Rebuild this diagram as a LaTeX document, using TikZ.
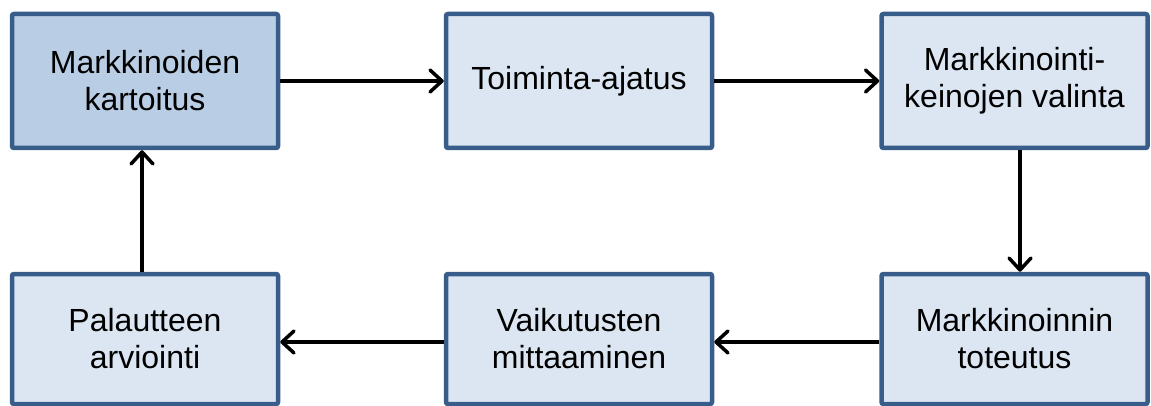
\documentclass[tikz,border=0pt]{standalone}
\usepackage{fontspec}
\setmainfont{Liberation Sans}
\usetikzlibrary{arrows.meta}
\definecolor{boxline}{HTML}{385D8A}
\definecolor{boxfill}{HTML}{DCE6F2}
\definecolor{boxfilldark}{HTML}{B9CDE5}
\tikzset{
  stage/.style={draw=boxline, line width=4.5pt, fill=boxfill, rounded corners=2pt,
    minimum width=266pt, align=center, inner sep=0pt,
    font=\fontsize{32}{37}\selectfont},
  toprow/.style={stage, minimum height=134pt},
  bottomrow/.style={stage, minimum height=130pt},
  flow/.style={line width=3.5pt, black,
    -{Straight Barb[length=12pt,width=22pt,line width=3.5pt,round]}}
}
\begin{document}
\begin{tikzpicture}[x=1pt,y=-1pt]
\useasboundingbox (0,0) rectangle (1151,406);
\node[toprow, fill=boxfilldark] (kartoitus) at (145,81) {Markkinoiden\\kartoitus};
\node[toprow] (ajatus) at (579,81) {Toiminta-ajatus};
\node[toprow] (valinta) at (1014.5,81) {Markkinointi-\\keinojen valinta};
\node[bottomrow] (arviointi) at (145,339) {Palautteen\\arviointi};
\node[bottomrow] (mittaus) at (579,339) {Vaikutusten\\mittaaminen};
\node[bottomrow] (toteutus) at (1014.5,339) {Markkinoinnin\\toteutus};

\draw[flow] (kartoitus.east) -- (ajatus.west);
\draw[flow] (ajatus.east) -- (valinta.west);
\draw[flow] ([xshift=5.5pt]valinta.south) -- ([xshift=5.5pt]toteutus.north);
\draw[flow] ([yshift=-3pt]toteutus.west) -- ([yshift=-3pt]mittaus.east);
\draw[flow] ([yshift=-3pt]mittaus.west) -- ([yshift=-3pt]arviointi.east);
\draw[flow] ([xshift=-3pt]arviointi.north) -- ([xshift=-3pt]kartoitus.south);
\end{tikzpicture}
\end{document}
